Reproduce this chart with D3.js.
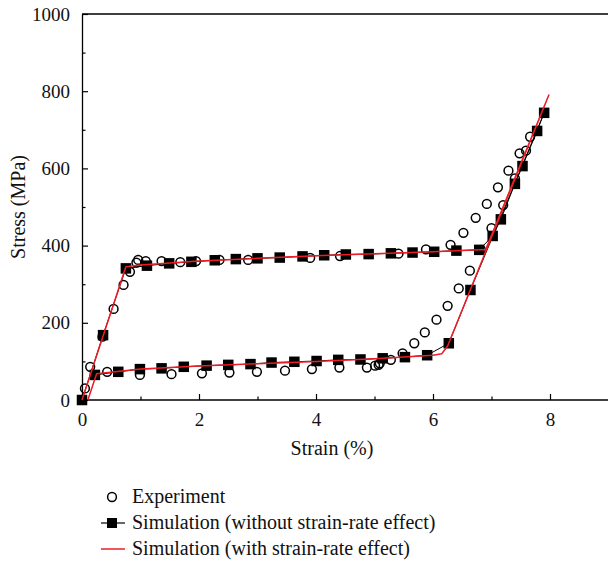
<!DOCTYPE html>
<html>
<head>
<meta charset="utf-8">
<script src="https://cdn.jsdelivr.net/npm/d3@7"></script>
<style>
  body { margin: 0; background: #fff; }
  svg text { font-family: "Liberation Serif", "DejaVu Serif", serif; fill: #111; }
</style>
</head>
<body>
<div id="chart"></div>
<script>
// experiment (open circles)
var expStrain = [0.05, 0.14, 0.35, 0.54, 0.71, 0.82, 0.93, 0.96, 1.09, 1.36, 1.68, 1.95, 2.35, 2.84, 3.90, 4.41, 5.41, 5.88, 6.30, 6.52, 6.73, 6.92, 7.11, 7.29, 7.48, 7.66,
                 7.59, 7.40, 7.20, 7.00, 6.82, 6.63, 6.44, 6.25, 6.06, 5.86, 5.68, 5.48, 5.28, 5.09, 5.07, 5.01, 4.87, 4.40, 3.93, 3.47, 2.99, 2.52, 2.05, 1.53, 0.99, 0.43];
var expStress = [30, 86, 164, 236, 298, 332, 356, 363, 360, 360, 357, 360, 363, 363, 368, 373, 379, 390, 402, 433, 472, 508, 551, 594, 639, 682,
                 646, 574, 505, 445, 389, 335, 289, 244, 208, 175, 147, 121, 104, 95, 91, 89, 84, 84, 80, 76, 73, 71, 69, 67, 65, 73];

// simulation without strain-rate effect (squares)
var simStrain = [0, 0.36, 0.75, 1.11, 1.49, 1.87, 2.27, 2.63, 3.00, 3.38, 3.77, 4.14, 4.51, 4.90, 5.28, 5.65, 6.02, 6.40, 6.79, 7.02, 7.16, 7.40, 7.53, 7.78, 7.90,
                 6.64, 6.27, 5.90, 5.52, 5.14, 4.76, 4.38, 4.01, 3.63, 3.24, 2.88, 2.50, 2.13, 1.74, 1.36, 0.99, 0.62, 0.22];
var simStress = [0, 168, 341, 348, 354, 358, 362, 365, 367, 369, 372, 375, 377, 378, 380, 382, 384, 387, 389, 425, 468, 560, 606, 697, 744,
                 285, 147, 116, 111, 108, 105, 104, 101, 99, 97, 93, 91, 89, 86, 82, 80, 73, 65];

// simulation with strain-rate effect (red line)
var rateStrain = [0, 0.75, 1, 2, 3, 4, 5, 6, 6.9, 7.98, 6.25, 6.15, 6.0, 5, 4, 3, 2, 1, 0.25, 0.1];
var rateStress = [0, 345, 350, 360, 367, 374, 379, 384, 390, 790, 140, 120, 116, 107, 100, 94, 88, 80, 68, 0];

var xTicks = [0, 2, 4, 6, 8];
var xMinor = [1, 3, 5, 7];
var yTicks = [0, 200, 400, 600, 800, 1000];
var yMinor = [100, 300, 500, 700, 900];

var legendLabels = ["Experiment", "Simulation (without strain-rate effect)", "Simulation (with strain-rate effect)"];

var W = 608, H = 565;
var FONT = "'Liberation Serif', 'DejaVu Serif', serif";
var svg = d3.select("#chart").append("svg")
  .attr("width", W)
  .attr("height", H);

var x = d3.scaleLinear().domain([0, 9]).range([82, 608.5]);
var y = d3.scaleLinear().domain([0, 1000]).range([400, 14]);

function pts(xs, ys) {
  return xs.map(function(v, i) { return [v, ys[i]]; });
}

// frame top line
svg.append("line")
  .attr("x1", x(0)).attr("x2", W)
  .attr("y1", y(1000)).attr("y2", y(1000))
  .attr("stroke", "#000").attr("stroke-width", 1.3);

// axes
var gx = svg.append("g").attr("transform", "translate(0," + y(0) + ")")
  .call(d3.axisBottom(x).tickValues(xTicks).tickFormat(d3.format("d"))
    .tickSizeInner(-6).tickSizeOuter(0).tickPadding(13));
svg.append("g").attr("transform", "translate(0," + y(0) + ")")
  .call(d3.axisBottom(x).tickValues(xMinor).tickFormat("")
    .tickSizeInner(-3.5).tickSizeOuter(0))
  .select(".domain").remove();

var gy = svg.append("g").attr("transform", "translate(" + x(0) + ",0)")
  .call(d3.axisLeft(y).tickValues(yTicks).tickFormat(d3.format("d"))
    .tickSizeInner(-6).tickSizeOuter(0).tickPadding(12));
svg.append("g").attr("transform", "translate(" + x(0) + ",0)")
  .call(d3.axisLeft(y).tickValues(yMinor).tickFormat("")
    .tickSizeInner(-3.5).tickSizeOuter(0))
  .select(".domain").remove();

svg.selectAll("g").attr("font-family", FONT);
svg.selectAll(".domain").attr("stroke", "#000").attr("stroke-width", 1.3);
svg.selectAll(".tick line").attr("stroke", "#000").attr("stroke-width", 1.2);
svg.selectAll(".tick text").attr("font-size", 19).style("font-family", FONT);
gx.select(".domain").attr("d", "M" + x(0) + ",0H" + W);

// axis titles
svg.append("text")
  .attr("x", 332).attr("y", 455)
  .attr("text-anchor", "middle")
  .style("font-size", "20px")
  .style("font-family", FONT)
  .text("Strain (%)");
svg.append("text")
  .attr("transform", "translate(25,207) rotate(-90)")
  .attr("text-anchor", "middle")
  .style("font-size", "20px")
  .style("font-family", FONT)
  .text("Stress (MPa)");

var line = d3.line()
  .x(function(d) { return x(d[0]); })
  .y(function(d) { return y(d[1]); });

// simulation (without) line + squares
var simPts = pts(simStrain, simStress);
svg.append("path")
  .datum(simPts)
  .attr("d", line)
  .attr("fill", "none")
  .attr("stroke", "#000")
  .attr("stroke-width", 1);

// experiment circles
svg.selectAll("circle.exp")
  .data(pts(expStrain, expStress))
  .enter().append("circle")
  .attr("class", "exp")
  .attr("cx", function(d) { return x(d[0]); })
  .attr("cy", function(d) { return y(d[1]); })
  .attr("r", 4.4)
  .attr("fill", "none")
  .attr("stroke", "#000")
  .attr("stroke-width", 1.5);

var sq = 10.5;
svg.selectAll("rect.sim")
  .data(simPts)
  .enter().append("rect")
  .attr("class", "sim")
  .attr("x", function(d) { return x(d[0]) - sq / 2; })
  .attr("y", function(d) { return y(d[1]) - sq / 2; })
  .attr("width", sq)
  .attr("height", sq)
  .attr("fill", "#000");

// red line
svg.append("path")
  .datum(pts(rateStrain, rateStress))
  .attr("d", line)
  .attr("fill", "none")
  .attr("stroke", "#ee1c25")
  .attr("stroke-width", 1.5)
  .attr("stroke-linejoin", "round");

// legend
var lg = svg.append("g");
var rows = [497, 523, 549];
lg.append("circle")
  .attr("cx", 112).attr("cy", rows[0]).attr("r", 4.4)
  .attr("fill", "none").attr("stroke", "#000").attr("stroke-width", 1.5);
lg.append("line")
  .attr("x1", 101).attr("x2", 125).attr("y1", rows[1]).attr("y2", rows[1])
  .attr("stroke", "#000").attr("stroke-width", 1.2);
lg.append("rect")
  .attr("x", 107).attr("y", rows[1] - 5).attr("width", 10).attr("height", 10)
  .attr("fill", "#000");
lg.append("line")
  .attr("x1", 101).attr("x2", 125).attr("y1", rows[2]).attr("y2", rows[2])
  .attr("stroke", "#ee1c25").attr("stroke-width", 1.5);
lg.selectAll("text")
  .data(legendLabels)
  .enter().append("text")
  .attr("x", 132)
  .attr("y", function(d, i) { return rows[i] + 6; })
  .style("font-size", "20px")
  .style("font-family", FONT)
  .text(function(d) { return d; });
</script>
</body>
</html>
